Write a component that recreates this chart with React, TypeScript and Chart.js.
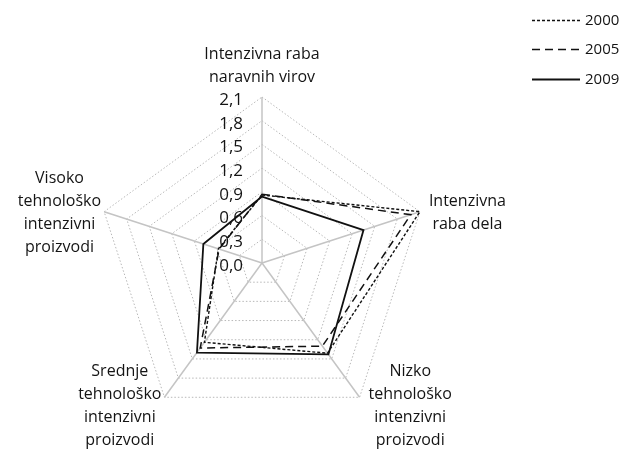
import React, { useEffect, useRef } from "react";
import { Chart, registerables } from "chart.js";

Chart.register(...registerables);

const categories: string[][] = [
  ["Intenzivna raba", "naravnih virov"],
  ["Intenzivna", "raba dela"],
  ["Nizko", "tehnološko", "intenzivni", "proizvodi"],
  ["Srednje", "tehnološko", "intenzivni", "proizvodi"],
  ["Visoko", "tehnološko", "intenzivni", "proizvodi"],
];
const seriesNames = ["2000", "2005", "2009"];
const values2000 = [0.86, 2.1, 1.41, 1.24, 0.58];
const values2005 = [0.87, 1.98, 1.3, 1.33, 0.57];
const values2009 = [0.84, 1.35, 1.43, 1.4, 0.78];
const tickLabels = ["0,0", "0,3", "0,6", "0,9", "1,2", "1,5", "1,8", "2,1"];
const axisMin = 0;
const axisMax = 2.1;
const axisStep = 0.3;

const FONT_FAMILY = "'Open Sans', 'DejaVu Sans', sans-serif";
const TEXT_COLOR = "#141414";

const overlayPlugin = {
  id: "overlayText",
  afterDraw(chart: any) {
    const scale = chart.scales.r;
    const ctx: CanvasRenderingContext2D = chart.ctx;
    ctx.save();
    ctx.fillStyle = TEXT_COLOR;

    // point labels
    ctx.font = `16px ${FONT_FAMILY}`;
    ctx.textAlign = "center";
    ctx.textBaseline = "middle";
    const lh = 23;
    (chart.data.labels as any[]).forEach((lab, i) => {
      const lines: string[] = Array.isArray(lab) ? lab : [lab];
      const p = scale.getPointPositionForValue(i, scale.max);
      const dx = p.x - scale.xCenter;
      const dy = p.y - scale.yCenter;
      const len = Math.hypot(dx, dy) || 1;
      const ux = dx / len;
      const uy = dy / len;
      const w = Math.max(...lines.map((l) => ctx.measureText(l).width));
      const h = lines.length * lh;
      let cx: number;
      let cy: number;
      if (Math.abs(ux) < 0.1) cx = p.x;
      else if (ux > 0) cx = p.x + 9 + w / 2;
      else cx = p.x - 3 - w / 2;
      if (uy < -0.9) cy = p.y - 8 - h / 2;
      else cy = p.y + (uy > 0 ? uy * 10 : 0) + 1;
      lines.forEach((l, k) => ctx.fillText(l, cx, cy - h / 2 + lh * (k + 0.5)));
    });

    // tick labels
    ctx.font = `17px ${FONT_FAMILY}`;
    ctx.textAlign = "right";
    ctx.textBaseline = "middle";
    scale.ticks.forEach((t: any, i: number) => {
      const d = scale.getDistanceFromCenterForValue(t.value);
      ctx.fillText(tickLabels[i] ?? String(t.value), scale.xCenter - 19, scale.yCenter - d + 3);
    });

    // legend
    ctx.font = `15px ${FONT_FAMILY}`;
    ctx.textAlign = "left";
    const legendYs = [20, 49, 79];
    chart.data.datasets.forEach((ds: any, i: number) => {
      const y = legendYs[i];
      ctx.save();
      ctx.strokeStyle = ds.borderColor;
      ctx.lineWidth = ds.borderWidth;
      ctx.setLineDash(ds.borderDash || []);
      ctx.beginPath();
      ctx.moveTo(532, y + 0.5);
      ctx.lineTo(580, y + 0.5);
      ctx.stroke();
      ctx.restore();
      ctx.fillText(ds.label, 585, y + 1);
    });
    ctx.restore();
  },
};

export default function App() {
  const ref = useRef<HTMLCanvasElement | null>(null);
  useEffect(() => {
    if (!ref.current) return;
    const chart = new Chart(ref.current, {
      type: "radar",
      data: {
        labels: categories,
        datasets: [
          {
            label: seriesNames[0],
            data: values2000,
            borderColor: "#111111",
            borderWidth: 1.4,
            borderDash: [3, 2],
            fill: false,
            pointRadius: 0,
            tension: 0,
          },
          {
            label: seriesNames[1],
            data: values2005,
            borderColor: "#111111",
            borderWidth: 1.5,
            borderDash: [8, 5],
            fill: false,
            pointRadius: 0,
            tension: 0,
          },
          {
            label: seriesNames[2],
            data: values2009,
            borderColor: "#111111",
            borderWidth: 1.8,
            borderDash: [],
            fill: false,
            pointRadius: 0,
            tension: 0,
          },
        ],
      },
      options: {
        responsive: true,
        maintainAspectRatio: false,
        animation: false,
        layout: { padding: { left: 96, right: 200, top: 97, bottom: 20 } },
        plugins: { legend: { display: false }, tooltip: { enabled: false } },
        scales: {
          r: {
            min: axisMin,
            max: axisMax,
            ticks: { stepSize: axisStep, display: false },
            pointLabels: { display: false },
            grid: { color: "#b8b8b8", lineWidth: 1 },
            border: { dash: [1.5, 2] },
            angleLines: { color: "#c4c4c4", lineWidth: 1.5 },
          },
        },
      },
      plugins: [overlayPlugin],
    });
    return () => chart.destroy();
  }, []);
  return (
    <div style={{ position: "fixed", left: 0, top: 0, width: 628, height: 449, background: "#fff" }}>
      <canvas ref={ref} />
    </div>
  );
}
